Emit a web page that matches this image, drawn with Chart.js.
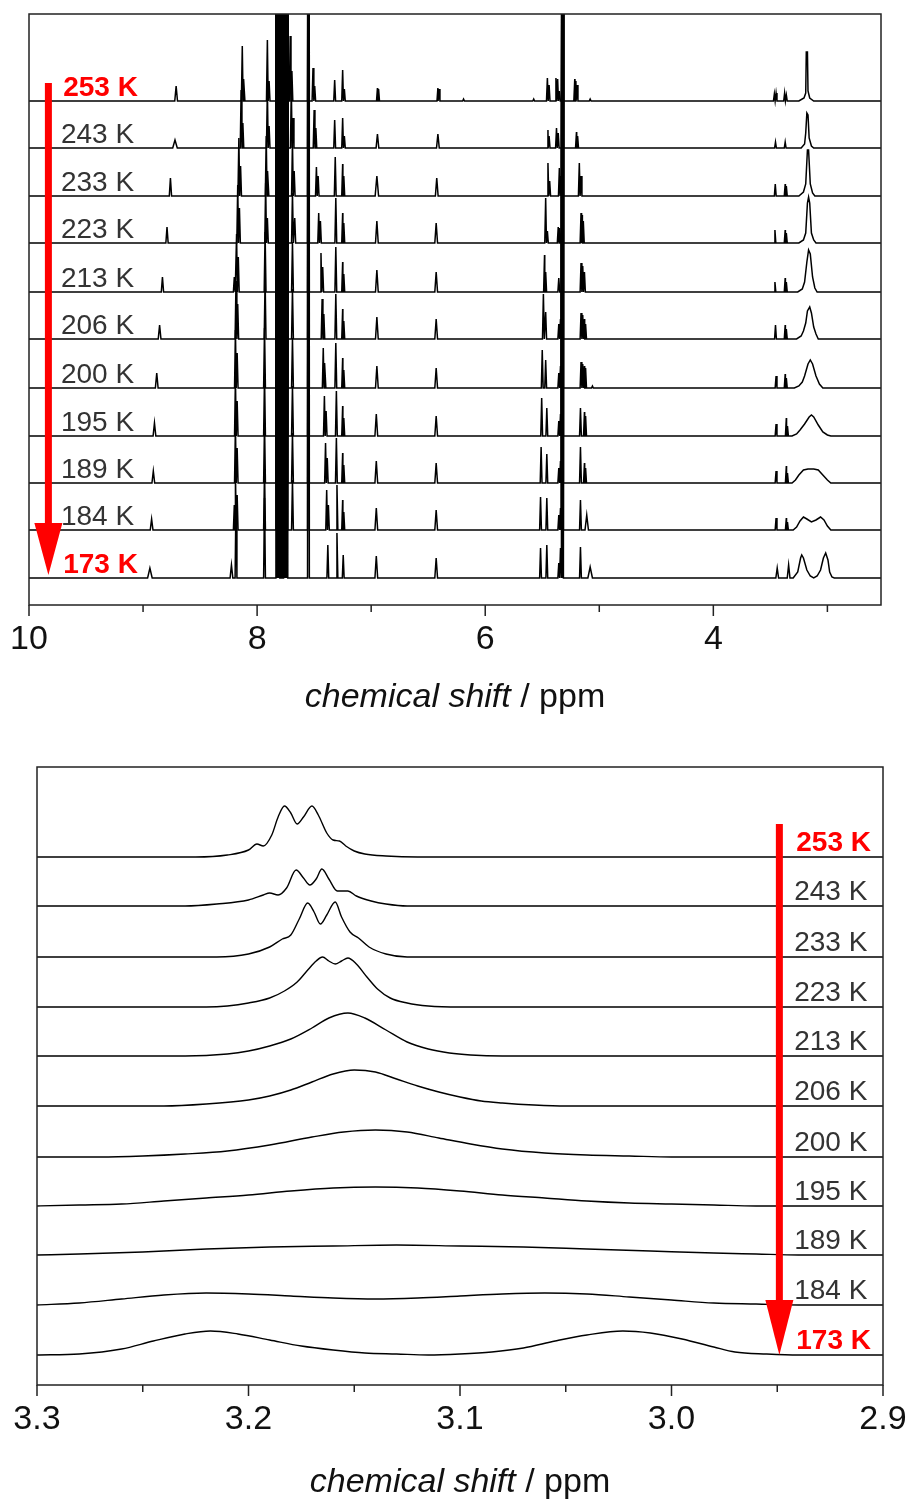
<!DOCTYPE html>
<html><head><meta charset="utf-8">
<script src="https://cdn.jsdelivr.net/npm/chart.js@4.4.1/dist/chart.umd.min.js"></script>
<style>
html,body{margin:0;padding:0;background:#fff;width:910px;height:1503px;overflow:hidden}
canvas{position:absolute;left:0}
#c1{top:0}
#c2{top:740px}
</style></head><body>
<canvas id="c1" width="910" height="740"></canvas>
<canvas id="c2" width="910" height="763"></canvas>
<script>
// ---------------- data ----------------
const temps = ['253 K','243 K','233 K','223 K','213 K','206 K','200 K','195 K','189 K','184 K','173 K'];
const topOffsets = [504,457,409,362,313,266,217,169,122,75,27];
const bottomOffsets = [528,479,428,378,329,279,228,179,130,80,30];
const topTicks = [10,8,6,4];
const topMinorTicks = [9,7,5,3];
const bottomTicks = [3.3,3.2,3.1,3.0,2.9];
const bottomMinorTicks = [3.25,3.15,3.05,2.95];
const topRange = [2.53,10];
const bottomRange = [2.9,3.3];

// shared dense multiplet (off-scale) around 7.8 ppm and solvent line at 5.32 ppm
const bandLines = [7.835,7.825,7.815,7.805,7.795,7.785,7.775,7.765,7.755,7.745,7.735];
const solventLines = [5.326,5.322,5.318,5.314];
const bandHeight = 700;

// sharp lines: [ppm, height(, half width)]
const topLines253 = [[8.71,15,.012],[8.13,55],[8.115,22],[7.91,61],[7.895,20],[7.71,65],[7.695,30],[7.55,700],[7.51,33],[7.495,15],[7.32,21],[7.25,31],[7.235,12],[6.945,13],[6.935,12],[6.415,13],[6.405,12],[6.19,2],[5.575,2],[5.455,23],[5.44,16],[5.38,23],[5.365,22],[5.35,10],[5.32,700,.01],[5.215,22],[5.205,20],[5.195,16],[5.08,2],[3.465,7],[3.45,8],[3.375,8],[3.36,6]];
const topLines243 = [[8.72,8,.02],[8.14,58],[8.125,25],[7.91,60],[7.895,22],[7.70,60],[7.685,30],[7.55,700],[7.50,38],[7.485,20],[7.32,28],[7.25,30],[7.235,12],[6.945,14,.012],[6.415,14,.012],[5.45,18],[5.44,12],[5.375,20],[5.36,15],[5.32,700,.01],[5.20,16],[5.19,12],[3.455,6],[3.37,6]];
const topLines233 = [[8.76,18,.01],[8.16,58],[8.145,30],[7.92,60],[7.905,25],[7.69,55],[7.675,25],[7.55,700],[7.48,29],[7.465,20],[7.315,39],[7.25,32],[7.24,20],[6.95,20,.015],[6.425,18,.012],[5.45,33],[5.435,15],[5.35,28],[5.335,20],[5.32,700,.01],[5.175,33],[5.16,20],[3.457,12],[3.37,12],[3.36,10]];
const topLines223 = [[8.79,16,.01],[8.17,58],[8.155,35],[7.925,60],[7.91,25],[7.69,50],[7.67,25],[7.55,700],[7.46,30],[7.445,22],[7.31,45],[7.25,30],[7.24,20],[6.95,22,.012],[6.43,20,.012],[5.47,45],[5.455,12],[5.36,16],[5.345,15],[5.32,700,.01],[5.16,30],[5.15,28],[5.14,22],[3.46,13],[3.37,13],[3.36,10]];
const topLines213 = [[8.83,15,.01],[8.20,15],[8.18,58],[8.165,35],[7.93,60],[7.69,50],[7.55,700],[7.44,39],[7.425,25],[7.31,45],[7.25,30],[7.24,18],[6.95,22,.012],[6.43,20,.012],[5.48,37],[5.47,20],[5.355,14],[5.32,700,.012],[5.16,29],[5.145,26],[5.13,20],[3.46,10],[3.37,14],[3.36,10]];
const topLines206 = [[8.855,14,.012],[8.185,58],[8.17,35],[7.93,60],[7.69,50],[7.55,700],[7.43,40],[7.415,25],[7.31,45],[7.25,30],[7.24,18],[6.95,22,.012],[6.43,20,.012],[5.49,45],[5.47,27],[5.355,15],[5.34,20],[5.32,700,.012],[5.16,26],[5.145,24],[5.13,20],[5.12,15],[3.455,14],[3.37,14],[3.36,10]];
const topLines200 = [[8.88,15,.012],[8.19,58],[8.175,35],[7.935,60],[7.69,50],[7.55,700],[7.42,40],[7.405,25],[7.31,45],[7.25,30],[7.24,18],[6.95,22,.012],[6.43,20,.012],[5.50,38],[5.47,28],[5.355,15],[5.34,22],[5.32,700,.015],[5.16,26],[5.145,24],[5.13,22],[5.12,20],[5.06,2],[3.45,12],[3.37,14],[3.36,10]];
const topLines195 = [[8.90,13,.012],[8.19,58],[8.175,35],[7.935,60],[7.69,50],[7.55,700],[7.41,40],[7.395,25],[7.305,45],[7.25,30],[7.24,18],[6.955,22,.012],[6.43,20,.012],[5.505,38],[5.46,28],[5.355,15],[5.34,22],[5.32,700,.015],[5.165,28],[5.13,24],[5.12,20],[3.45,12],[3.36,18],[3.35,10]];
const topLines189 = [[8.91,12,.012],[8.19,58],[8.175,35],[7.935,60],[7.69,50],[7.55,700],[7.40,40],[7.385,25],[7.305,45],[7.25,30],[7.24,18],[6.955,22,.012],[6.43,20,.012],[5.51,36],[5.46,29],[5.355,15],[5.34,22],[5.32,700,.015],[5.165,36],[5.13,20],[5.12,15],[3.45,12],[3.36,17],[3.35,10]];
const topLines184 = [[8.925,11,.012],[8.20,25],[8.19,58],[8.175,35],[7.935,60],[7.69,50],[7.55,700],[7.39,40],[7.375,25],[7.30,45],[7.25,30],[7.24,18],[6.955,22,.012],[6.43,20,.012],[5.515,33],[5.46,32],[5.355,15],[5.34,22],[5.32,700,.015],[5.165,30],[5.11,15,.015],[3.45,12],[3.36,12],[3.35,8]];
const topLines173 = [[8.94,10,.02],[8.225,13,.012],[8.185,80],[7.935,80],[7.77,65],[7.55,700],[7.38,33],[7.30,45],[7.245,23],[6.955,22,.012],[6.43,20,.012],[5.515,30],[5.46,33],[5.355,15],[5.34,30],[5.32,700,.025],[5.165,31],[5.08,11,.02],[3.44,10,.012],[3.34,13,.012]];

// broad signal near 3.1 ppm: [ppm, height]
const topBroad253 = [[3.25,0],[3.205,3],[3.19,8],[3.185,49],[3.175,49],[3.17,10],[3.155,3],[3.12,0]];
const topBroad243 = [[3.23,0],[3.20,4],[3.19,15],[3.18,35],[3.17,33],[3.16,10],[3.14,2],[3.12,0]];
const topBroad233 = [[3.25,0],[3.21,4],[3.19,12],[3.175,46],[3.165,46],[3.15,12],[3.13,3],[3.11,0]];
const topBroad223 = [[3.25,0],[3.21,3],[3.19,10],[3.175,40],[3.165,46],[3.155,40],[3.14,10],[3.12,3],[3.10,0]];
const topBroad213 = [[3.26,0],[3.22,3],[3.20,10],[3.18,30],[3.165,42],[3.15,38],[3.13,15],[3.11,4],[3.09,0]];
const topBroad206 = [[3.27,0],[3.23,3],[3.21,8],[3.19,16],[3.175,28],[3.155,32],[3.14,26],[3.12,12],[3.10,5],[3.08,0]];
const topBroad200 = [[3.29,0],[3.25,2],[3.22,6],[3.20,12],[3.17,24],[3.15,28],[3.13,24],[3.10,12],[3.07,4],[3.04,0]];
const topBroad195 = [[3.31,0],[3.27,2],[3.24,6],[3.20,12],[3.16,19],[3.14,21],[3.12,19],[3.08,11],[3.04,4],[3.00,1],[2.97,0]];
const topBroad189 = [[3.31,0],[3.28,3],[3.25,8],[3.21,13],[3.17,14],[3.12,14],[3.08,13],[3.04,8],[3.00,3],[2.97,0]];
const topBroad184 = [[3.30,0],[3.27,3],[3.24,9],[3.21,13],[3.18,11],[3.14,8],[3.10,10],[3.06,13],[3.03,10],[3.00,4],[2.97,0]];
const topBroad173 = [[3.30,0],[3.26,6],[3.235,20],[3.225,23],[3.21,20],[3.18,8],[3.15,2],[3.12,0],[3.09,2],[3.06,8],[3.035,20],[3.015,25],[2.995,18],[2.98,6],[2.96,1],[2.94,0]];

// expanded region 3.3 - 2.9 ppm: [ppm, height]
const bot253 = [[3.30,0],[3.225,0],[3.21,2],[3.20,7],[3.196,13],[3.193,11],[3.189,22],[3.186,40],[3.183,51],[3.180,44],[3.177,33],[3.174,40],[3.170,51],[3.167,42],[3.163,24],[3.160,17],[3.157,16],[3.154,11],[3.150,6],[3.145,3],[3.135,1],[3.12,0],[2.90,0]];
const bot243 = [[3.30,0],[3.23,0],[3.215,2],[3.20,6],[3.193,11],[3.190,13],[3.186,11],[3.182,18],[3.1775,36],[3.174,28],[3.171,21],[3.168,27],[3.1653,37],[3.162,27],[3.158,15],[3.153,15],[3.149,10],[3.142,5],[3.135,2],[3.125,0],[2.90,0]];
const bot233 = [[3.30,0],[3.215,0],[3.20,3],[3.19,10],[3.184,18],[3.180,22],[3.176,38],[3.172,54],[3.169,45],[3.166,33],[3.163,42],[3.159,55],[3.156,40],[3.152,25],[3.148,19],[3.143,10],[3.135,3],[3.125,0],[2.90,0]];
const bot223 = [[3.30,0],[3.22,0],[3.21,1],[3.20,4],[3.19,9],[3.183,16],[3.177,25],[3.172,37],[3.168,46],[3.165,50],[3.162,46],[3.159,43],[3.156,46],[3.153,49],[3.149,43],[3.144,30],[3.139,18],[3.133,9],[3.125,4],[3.115,1],[3.10,0],[2.90,0]];
const bot213 = [[3.30,0],[3.23,0],[3.21,2],[3.20,5],[3.19,10],[3.18,17],[3.17,28],[3.162,38],[3.153,43],[3.145,38],[3.135,26],[3.125,14],[3.115,7],[3.105,3],[3.095,1],[3.08,0],[2.90,0]];
const bot206 = [[3.30,0],[3.24,0],[3.22,2],[3.20,6],[3.19,10],[3.18,16],[3.17,24],[3.16,32],[3.15,36],[3.14,34],[3.13,27],[3.12,20],[3.11,14],[3.10,9],[3.09,5],[3.08,3],[3.065,1],[3.05,0],[2.90,0]];
const bot200 = [[3.30,0],[3.27,0],[3.25,1],[3.23,3],[3.21,6],[3.19,12],[3.17,20],[3.155,25],[3.14,27],[3.125,25],[3.11,19],[3.095,13],[3.08,8],[3.06,4],[3.04,2],[3.02,1],[3.00,0],[2.90,0]];
const bot195 = [[3.30,0],[3.28,1],[3.26,2],[3.24,5],[3.22,8],[3.20,11],[3.18,15],[3.16,18],[3.14,19],[3.12,18],[3.10,15],[3.08,11],[3.06,8],[3.04,5],[3.02,3],[3.00,2],[2.98,1],[2.96,0],[2.90,0]];
const bot189 = [[3.30,0],[3.28,1],[3.25,3],[3.22,6],[3.19,8],[3.16,9],[3.13,10],[3.10,9],[3.07,8],[3.04,6],[3.01,4],[2.98,2],[2.96,1],[2.94,0],[2.90,0]];
const bot184 = [[3.30,0],[3.28,2],[3.26,6],[3.24,10],[3.22,12],[3.20,11],[3.18,9],[3.16,7],[3.14,6],[3.12,7],[3.10,9],[3.08,11],[3.06,12],[3.04,11],[3.02,8],[3.00,5],[2.98,2],[2.96,1],[2.94,0],[2.90,0]];
const bot173 = [[3.30,0],[3.28,1],[3.26,6],[3.245,14],[3.23,21],[3.218,24],[3.205,21],[3.19,15],[3.175,9],[3.16,5],[3.145,2],[3.13,1],[3.115,0],[3.10,1],[3.085,3],[3.07,7],[3.055,14],[3.04,20],[3.023,24],[3.01,22],[2.995,16],[2.98,8],[2.97,3],[2.955,1],[2.94,0],[2.90,0]];

// ---------------- tables built from the arrays ----------------
const topLines = [topLines253,topLines243,topLines233,topLines223,topLines213,topLines206,topLines200,topLines195,topLines189,topLines184,topLines173];
const topBroad = [topBroad253,topBroad243,topBroad233,topBroad223,topBroad213,topBroad206,topBroad200,topBroad195,topBroad189,topBroad184,topBroad173];
const botSpectra = [bot253,bot243,bot233,bot223,bot213,bot206,bot200,bot195,bot189,bot184,bot173];

const DEFAULT_HW = 0.008, BAND_HW = 0.004, SOLVENT_HW = 0.002;
function buildTop(lines, broad, offset){
  const pts = [[topRange[1],0],[topRange[0],0]];
  const tri = (p,h,hw)=>{ pts.push([p+hw,0],[p,h],[p-hw,0]); };
  lines.forEach(l=>tri(l[0], l[1], l.length>2 ? l[2] : DEFAULT_HW));
  bandLines.forEach(p=>tri(p, bandHeight, BAND_HW));
  solventLines.forEach(p=>tri(p, bandHeight, SOLVENT_HW));
  broad.forEach(b=>pts.push([b[0],b[1]]));
  pts.sort((a,b)=>b[0]-a[0]);
  return pts.map(p=>({x:p[0], y:p[1]+offset}));
}
function buildBottom(spec, offset){
  return spec.map(p=>({x:p[0], y:p[1]+offset}));
}

const FONT = '"Liberation Sans", Arial, sans-serif';

function decorPlugin(cfg){
  return {
    id:'decor'+cfg.id,
    afterDatasetsDraw(chart){
      const ctx = chart.ctx, xs = chart.scales.x, ys = chart.scales.y;
      ctx.save();
      temps.forEach((t,i)=>{
        const hi = (i===0 || i===temps.length-1);
        ctx.font = (hi?'bold ':'') + cfg.labelSize + 'px ' + FONT;
        ctx.fillStyle = hi ? '#ff0000' : '#333333';
        ctx.textBaseline = 'alphabetic';
        ctx.textAlign = 'left';
        const x = xs.getPixelForValue(hi ? cfg.labelPpmHi : cfg.labelPpm);
        const y = ys.getPixelForValue(cfg.offsets[i]) - cfg.labelLift;
        ctx.fillText(t, x, y);
      });
      const ax = xs.getPixelForValue(cfg.arrowPpm);
      const y0 = ys.getPixelForValue(cfg.arrowStart);
      const yh = ys.getPixelForValue(cfg.arrowHead);
      const yt = ys.getPixelForValue(cfg.arrowTip);
      ctx.fillStyle = '#ff0000';
      ctx.fillRect(ax-3.5, y0, 7, yh-y0+2);
      ctx.beginPath();
      ctx.moveTo(ax-14, yh); ctx.lineTo(ax+14, yh); ctx.lineTo(ax, yt); ctx.closePath();
      ctx.fill();
      ctx.restore();
    },
    afterDraw(chart){
      const ctx = chart.ctx, xs = chart.scales.x, a = chart.chartArea;
      ctx.save();
      ctx.strokeStyle = '#222'; ctx.lineWidth = 1.5;
      ctx.strokeRect(a.left, a.top, a.right-a.left, a.bottom-a.top);
      ctx.beginPath();
      cfg.major.forEach(v=>{ const x = xs.getPixelForValue(v); ctx.moveTo(x, a.bottom); ctx.lineTo(x, a.bottom+11); });
      cfg.minor.forEach(v=>{ const x = xs.getPixelForValue(v); ctx.moveTo(x, a.bottom); ctx.lineTo(x, a.bottom+7); });
      ctx.stroke();
      const p1 = 'chemical shift', p2 = ' / ppm';
      ctx.font = 'italic ' + cfg.titleSize + 'px ' + FONT; const w1 = ctx.measureText(p1).width;
      ctx.font = cfg.titleSize + 'px ' + FONT; const w2 = ctx.measureText(p2).width;
      const cx = (a.left + a.right)/2, x0 = cx - (w1+w2)/2;
      ctx.fillStyle = '#111'; ctx.textBaseline = 'alphabetic'; ctx.textAlign = 'left';
      ctx.font = 'italic ' + cfg.titleSize + 'px ' + FONT; ctx.fillText(p1, x0, cfg.titleY);
      ctx.font = cfg.titleSize + 'px ' + FONT; ctx.fillText(p2, x0 + w1, cfg.titleY);
      ctx.restore();
    }
  };
}

function makeChart(id, datasets, cfg){
  return new Chart(document.getElementById(id), {
    type:'line',
    data:{ datasets },
    options:{
      responsive:false, animation:false, devicePixelRatio:1, events:[],
      layout:{ padding: cfg.padding },
      plugins:{ legend:{display:false}, tooltip:{enabled:false}, title:{display:false} },
      elements:{ point:{ radius:0 } },
      scales:{
        x:{ type:'linear', min:cfg.range[0], max:cfg.range[1], reverse:true,
            afterBuildTicks: s=>{ s.ticks = cfg.major.map(v=>({value:v})); },
            afterFit: s=>{ s.height = cfg.xHeight; s.paddingLeft = 0; s.paddingRight = 0; },
            grid:{ display:false, drawTicks:false }, border:{ display:false },
            ticks:{ autoSkip:false, maxRotation:0, padding:cfg.tickPad, color:'#111',
                    font:{ family:FONT, size:cfg.tickSize }, callback: cfg.fmt } },
        y:{ display:false, min:0, max:cfg.yMax }
      }
    },
    plugins:[decorPlugin(cfg)]
  });
}

const topDatasets = topLines.map((l,i)=>({
  label: temps[i], data: buildTop(l, topBroad[i], topOffsets[i]),
  borderColor:'#000', borderWidth:1.5, tension:0, fill:false
}));
const botDatasets = botSpectra.map((s,i)=>({
  label: temps[i], data: buildBottom(s, bottomOffsets[i]),
  borderColor:'#000', borderWidth:1.4, cubicInterpolationMode:'monotone', fill:false
}));

makeChart('c1', topDatasets, {
  id:1, range:topRange, major:topTicks, minor:topMinorTicks, yMax:591, offsets:topOffsets,
  padding:{left:29, right:29, top:14, bottom:0}, xHeight:135, tickPad:14, tickSize:34,
  fmt: v=>String(v), titleSize:34, titleY:707,
  labelSize:28, labelPpm:9.72, labelPpmHi:9.70, labelLift:5,
  arrowPpm:9.83, arrowStart:522, arrowHead:82, arrowTip:30
});
makeChart('c2', botDatasets, {
  id:2, range:bottomRange, major:bottomTicks, minor:bottomMinorTicks, yMax:618, offsets:bottomOffsets,
  padding:{left:37, right:27, top:27, bottom:0}, xHeight:118, tickPad:14, tickSize:34,
  fmt: v=>v.toFixed(1), titleSize:34, titleY:752,
  labelSize:28, labelPpm:2.942, labelPpmHi:2.941, labelLift:6,
  arrowPpm:2.949, arrowStart:561, arrowHead:85, arrowTip:30
});
</script>
</body></html>
